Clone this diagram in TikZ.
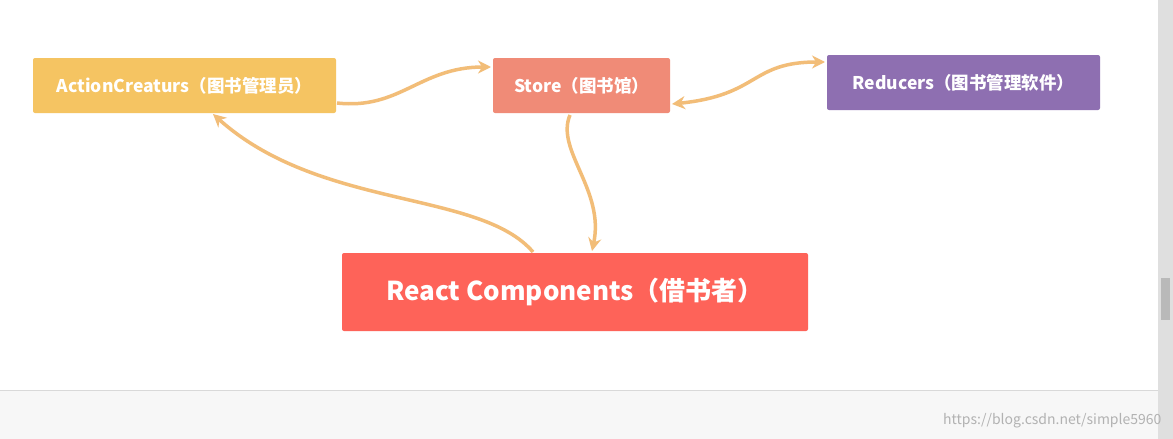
\documentclass[tikz,border=0pt]{standalone}
\usepackage{fontspec}
\setmainfont{Noto Sans CJK SC}
\usetikzlibrary{arrows.meta}
\definecolor{cA}{HTML}{F5C462}
\definecolor{cS}{HTML}{F08B77}
\definecolor{cR}{HTML}{8E6FB1}
\definecolor{cC}{HTML}{FE6359}
\definecolor{arr}{HTML}{F2BD78}
\begin{document}
\begin{tikzpicture}[x=1pt,y=-1pt,
 box/.style={rounded corners=2pt,text=white,font=\bfseries\fontsize{17.5}{20}\selectfont,inner sep=0pt},
 con/.style={arr,line width=3.5pt,-{Stealth[length=13pt,width=13pt]}}]
\useasboundingbox (0,0) rectangle (1173,439);
\fill[white] (0,0) rectangle (1173,439);
\fill[gray!6] (0,390) rectangle (1158,439);
\draw[gray!30] (0,390) -- (1158,390);
\fill[gray!25] (1158,0) rectangle (1173,439);
\fill[gray!55] (1161,278) rectangle (1170,320);
\node[box,fill=cA,minimum width=303pt,minimum height=55pt] (a) at (184.5,85.5) {ActionCreaturs（图书管理员）};
\node[box,fill=cS,minimum width=177pt,minimum height=55pt] (s) at (581.5,85.5) {Store（图书馆）};
\node[box,fill=cR,minimum width=273pt,minimum height=55pt] (r) at (963.5,82.5) {Reducers（图书管理软件）};
\node[box,fill=cC,minimum width=466pt,minimum height=78pt,font=\bfseries\fontsize{26}{30}\selectfont] (c) at (575,292) {React Components（借书者）};
\coordinate (a1) at (337,103);
\coordinate (s1) at (491,67);
\coordinate (s2) at (672,104);
\coordinate (r1) at (825,62);
\coordinate (s3) at (570,115);
\coordinate (c1) at (592,251);
\coordinate (c2) at (533,252);
\coordinate (a2) at (213,114);
\draw[con] (a1) .. controls (400,110) and (420,67) .. (s1);
\draw[arr,line width=3.5pt,{Stealth[length=13pt,width=13pt]}-{Stealth[length=13pt,width=13pt]}] (s2) .. controls (760,95) and (750,62) .. (r1);
\draw[con] (s3) .. controls (555,150) and (605,190) .. (c1);
\draw[con] (c2) .. controls (480,190) and (320,210) .. (a2);
\node[gray!60,font=\fontsize{14}{16}\selectfont,anchor=east] (w) at (1165,421) {https://blog.csdn.net/simple5960};
\end{tikzpicture}
\end{document}
